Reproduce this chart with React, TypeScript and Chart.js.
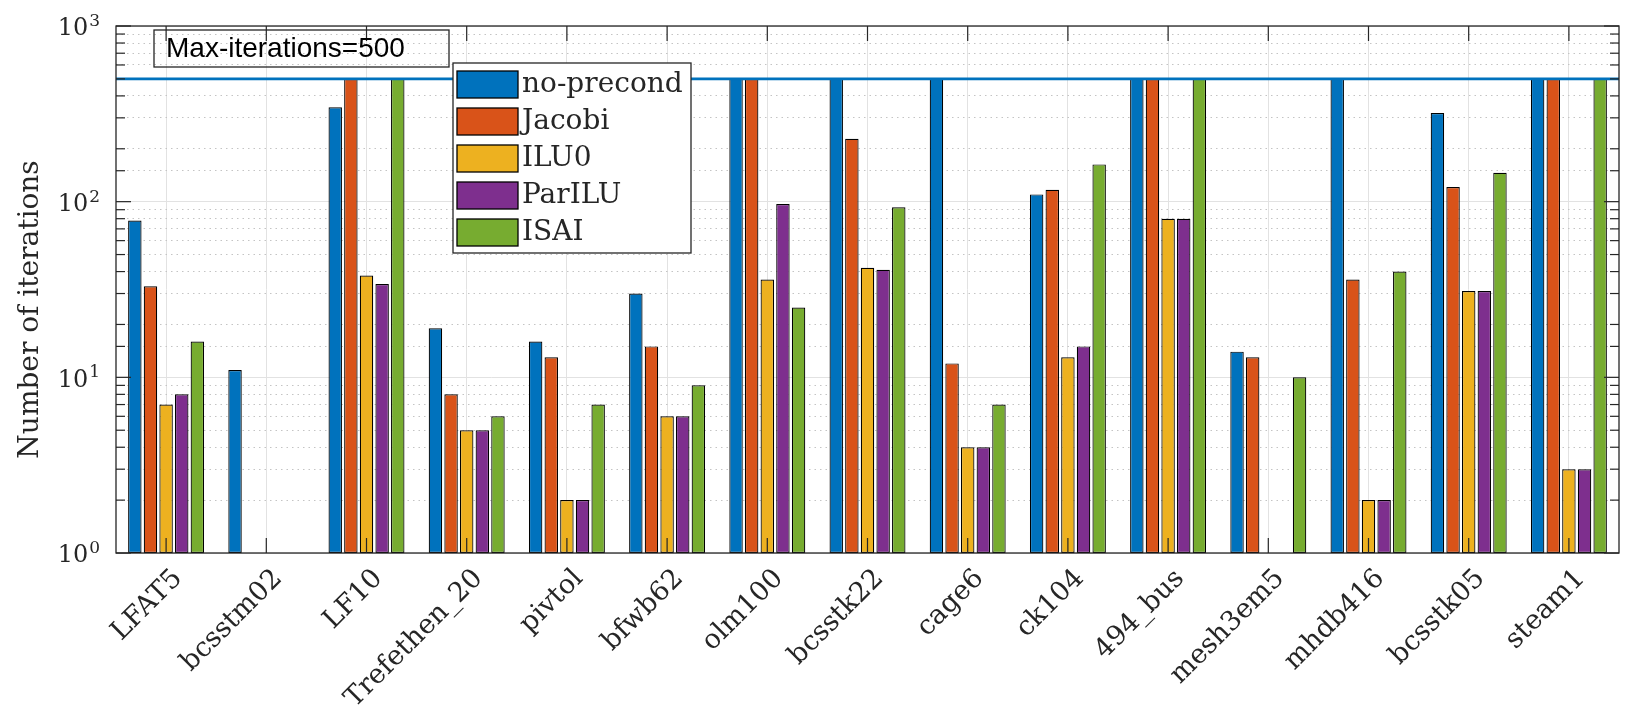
import React, { useEffect, useRef } from "react";
import { Chart, registerables } from "chart.js";

Chart.register(...registerables);

const categories = [
  "LFAT5", "bcsstm02", "LF10", "Trefethen_20", "pivtol", "bfwb62", "olm100",
  "bcsstk22", "cage6", "ck104", "494_bus", "mesh3em5", "mhdb416", "bcsstk05", "steam1",
];
const noPrecond = [78, 11, 345, 19, 16, 30, 500, 500, 500, 110, 500, 14, 500, 320, 500];
const jacobi = [33, null, 500, 8, 13, 15, 500, 228, 12, 117, 500, 13, 36, 121, 500];
const ilu0 = [7, null, 38, 5, 2, 6, 36, 42, 4, 13, 80, null, 2, 31, 3];
const parilu = [8, null, 34, 5, 2, 6, 97, 41, 4, 15, 80, null, 2, 31, 3];
const isai = [16, null, 500, 6, 7, 9, 25, 93, 7, 163, 500, 10, 40, 146, 500];

const seriesNames = ["no-precond", "Jacobi", "ILU0", "ParILU", "ISAI"];
const seriesColors = ["#0072BD", "#D95319", "#EDB120", "#7E2F8E", "#77AC30"];
const seriesValues = [noPrecond, jacobi, ilu0, parilu, isai];

const yTickValues = [1, 10, 100, 1000];
const yTickExponents = ["0", "1", "2", "3"];
const maxIterations = 500;
const boxLabel = "Max-iterations=500";
const yTitle = "Number of iterations";

const SERIF = "'DejaVu Serif', serif";
const SANS = "'Liberation Sans', Arial, sans-serif";
const AXIS = "#262626";

const isMajor = (v: number) => {
  const l = Math.log10(v);
  return Math.abs(l - Math.round(l)) < 1e-9;
};

const decorPlugin = {
  id: "decor",
  afterDatasetsDraw(chart: any) {
    const { ctx, chartArea: a, scales } = chart;
    const ys = scales.y;
    const xs = scales.x;
    const line = (x1: number, y1: number, x2: number, y2: number) => {
      ctx.beginPath();
      ctx.moveTo(x1, y1);
      ctx.lineTo(x2, y2);
      ctx.stroke();
    };
    ctx.save();
    // max-iterations line
    const yl = ys.getPixelForValue(maxIterations);
    ctx.strokeStyle = seriesColors[0];
    ctx.lineWidth = 2.6;
    line(a.left, yl, a.right, yl);

    // frame
    ctx.strokeStyle = AXIS;
    ctx.lineWidth = 1.3;
    ctx.strokeRect(a.left, a.top, a.right - a.left, a.bottom - a.top);

    // y ticks (inward, both sides)
    ctx.lineWidth = 1.2;
    ys.ticks.forEach((t: any) => {
      const py = ys.getPixelForValue(t.value);
      const len = isMajor(t.value) ? 15 : 9;
      line(a.left, py, a.left + len, py);
      line(a.right, py, a.right - len, py);
    });
    // x ticks (inward, top and bottom)
    categories.forEach((_c, i) => {
      const px = xs.getPixelForTick(i);
      line(px, a.bottom, px, a.bottom - 15);
      line(px, a.top, px, a.top + 15);
    });

    // y tick labels 10^n
    ctx.fillStyle = AXIS;
    yTickValues.forEach((v, i) => {
      const py = ys.getPixelForValue(v);
      const expFont = `17px ${SERIF}`;
      ctx.font = expFont;
      const ew = ctx.measureText(yTickExponents[i]).width;
      const xEnd = a.left - 16;
      ctx.font = `24px ${SERIF}`;
      ctx.textAlign = "right";
      ctx.textBaseline = "middle";
      ctx.fillText("10", xEnd - ew - 1, py + 3);
      ctx.font = expFont;
      ctx.textAlign = "left";
      ctx.textBaseline = "alphabetic";
      ctx.fillText(yTickExponents[i], xEnd - ew, py);
    });

    // y axis title
    ctx.save();
    ctx.translate(31, (a.top + a.bottom) / 2 + 20);
    ctx.rotate(-Math.PI / 2);
    ctx.font = `28px ${SERIF}`;
    ctx.textAlign = "center";
    ctx.textBaseline = "middle";
    ctx.fillStyle = AXIS;
    ctx.fillText(yTitle, 0, 0);
    ctx.restore();

    // text box
    const bx = a.left + 38, by = a.top + 4, bw = 295, bh = 37;
    ctx.strokeStyle = AXIS;
    ctx.lineWidth = 1.3;
    ctx.strokeRect(bx, by, bw, bh);
    ctx.fillStyle = "#000";
    ctx.font = `28px ${SANS}`;
    ctx.textAlign = "left";
    ctx.textBaseline = "middle";
    ctx.fillText(boxLabel, bx + 12, by + bh / 2 + 1);

    // legend
    const lx = 453, ly = 63, lw = 238, lh = 190;
    ctx.fillStyle = "#fff";
    ctx.fillRect(lx, ly, lw, lh);
    ctx.strokeStyle = AXIS;
    ctx.lineWidth = 1.3;
    ctx.strokeRect(lx, ly, lw, lh);
    chart.data.datasets.forEach((ds: any, i: number) => {
      const sy = ly + 8 + i * 37;
      ctx.fillStyle = ds.backgroundColor;
      ctx.fillRect(lx + 4, sy, 61, 27);
      ctx.strokeStyle = "#000";
      ctx.lineWidth = 1.3;
      ctx.strokeRect(lx + 4, sy, 61, 27);
      ctx.fillStyle = AXIS;
      ctx.font = `28px ${SERIF}`;
      ctx.textAlign = "left";
      ctx.textBaseline = "middle";
      ctx.fillText(ds.label, lx + 69, sy + 14);
    });
    ctx.restore();
  },
};

export default function App() {
  const ref = useRef<HTMLCanvasElement | null>(null);
  useEffect(() => {
    if (!ref.current) return;
    const chart = new Chart(ref.current, {
      type: "bar",
      data: {
        labels: categories,
        datasets: seriesNames.map((name, i) => ({
          label: name,
          data: seriesValues[i],
          backgroundColor: seriesColors[i],
          borderColor: "#000",
          borderWidth: 1.2,
          borderSkipped: false,
          categoryPercentage: 0.78,
          barPercentage: 0.86,
        })),
      },
      options: {
        responsive: false,
        animation: false,
        layout: { padding: { top: 26, right: 14, left: 0, bottom: 0 } },
        plugins: {
          legend: { display: false },
          tooltip: { enabled: false },
        },
        scales: {
          x: {
            type: "category",
            offset: true,
            grid: {
              offset: false,
              color: "#e2e2e2",
              lineWidth: 1,
              drawTicks: false,
            },
            border: { display: false },
            ticks: {
              autoSkip: false,
              minRotation: 45,
              maxRotation: 45,
              padding: 10,
              labelOffset: 12,
              color: AXIS,
              font: { family: SERIF, size: 27 },
            },
            afterFit: (s: any) => {
              s.height = 160;
            },
          },
          y: {
            type: "logarithmic",
            min: 1,
            max: 1000,
            grid: {
              color: (c: any) => (c.tick && !isMajor(c.tick.value) ? "#c4c4c4" : "#e2e2e2"),
              lineWidth: 1,
              drawTicks: false,
            },
            border: {
              display: false,
              dash: (c: any) => (c.tick && !isMajor(c.tick.value) ? [1.5, 4] : []),
            },
            ticks: { display: false, autoSkip: false },
            afterFit: (s: any) => {
              s.width = 116;
            },
          },
        },
      },
      plugins: [decorPlugin],
    });
    return () => chart.destroy();
  }, []);
  return (
    <div style={{ position: "fixed", left: 0, top: 0, width: 1633, height: 713, background: "#fff" }}>
      <canvas ref={ref} width={1633} height={713} style={{ width: 1633, height: 713 }} />
    </div>
  );
}
